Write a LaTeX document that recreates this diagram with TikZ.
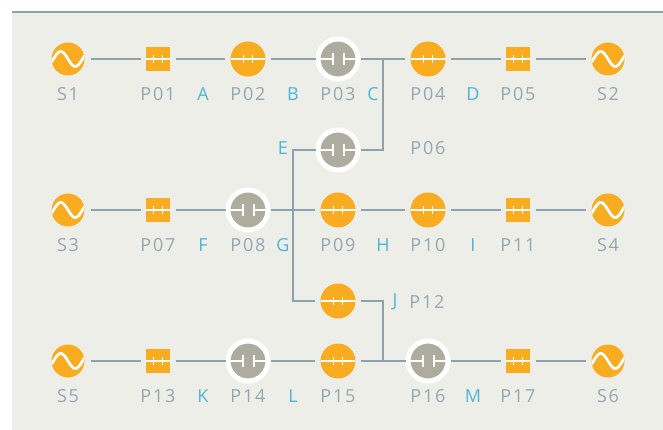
\documentclass[tikz,border=0pt]{standalone}
\usepackage{fontspec}
\setmainfont{Open Sans}[LetterSpace=10]
\usepackage{xcolor}
\usepackage{tikz}
\usetikzlibrary{positioning}

\definecolor{brkorange}{HTML}{F9AC1F}
\definecolor{brkgrey}{HTML}{AEAC9F}
\definecolor{panel}{HTML}{EEEEE9}
\definecolor{wire}{HTML}{8EA2AD}
\definecolor{lbltext}{HTML}{93A7B3}
\definecolor{segtext}{HTML}{4DB6D6}

\tikzset{
    ticks/.style={path picture={
        \draw[white,line width=1.5pt] (path picture bounding box.west) -- (path picture bounding box.east);
        \draw[white,line width=1.5pt] ([xshift=-4.5pt,yshift=-4pt]path picture bounding box.center) -- ++(0,8pt)
            ([xshift=4.5pt,yshift=-4pt]path picture bounding box.center) -- ++(0,8pt);}},
    closed/.style={circle,fill=brkorange,minimum size=35pt,inner sep=0pt,outer sep=5.5pt,ticks},
    cart/.style={rectangle,fill=brkorange,minimum size=24pt,inner sep=0pt,outer sep=5.5pt,ticks},
    open/.style={circle,fill=brkgrey,draw=white,line width=5pt,minimum size=40pt,inner sep=0pt,path picture={
        \draw[white,line width=2pt] (path picture bounding box.west) -- ([xshift=-5.5pt]path picture bounding box.center)
            ([xshift=5.5pt]path picture bounding box.center) -- (path picture bounding box.east);
        \draw[white,line width=2pt] ([xshift=-5.5pt,yshift=-6pt]path picture bounding box.center) -- ++(0,12pt)
            ([xshift=5.5pt,yshift=-6pt]path picture bounding box.center) -- ++(0,12pt);}},
    source/.style={circle,fill=brkorange,minimum size=33pt,inner sep=0pt,outer sep=6pt,path picture={
        \draw[white,line width=2.8pt,line cap=round,shift={(path picture bounding box.center)}]
            plot[domain=-16.5:16.5,samples=40,smooth] ({\x pt},{-7.5pt*sin(\x*180/14.5)});}},
    link/.style={draw=wire,line width=2.5pt},
    lbl/.style={text=lbltext,font=\fontsize{18}{18}\selectfont,inner sep=0pt},
    seg/.style={lbl,text=segtext}
}

\begin{document}
\begin{tikzpicture}[x=1pt,y=-1pt]
    \useasboundingbox (0,0) rectangle (663,430);
    \fill[panel] (12,12) rectangle (663,430);
    \draw[wire,line width=2.5pt] (12,12) -- (663,12);

    % top busbar
    \node[source] (S1) at (68,59) {};
    \node[cart]   (P01) at (158,59) {};
    \node[closed] (P02) at (248,59) {};
    \node[open]   (P03) at (338,59) {};
    \node[closed] (P04) at (428,59) {};
    \node[cart]   (P05) at (518,59) {};
    \node[source] (S2) at (608,59) {};
    \node[open]   (P06) at (338,150) {};

    % middle busbar
    \node[source] (S3) at (68,210) {};
    \node[cart]   (P07) at (158,210) {};
    \node[open]   (P08) at (248,210) {};
    \node[closed] (P09) at (338,210) {};
    \node[closed] (P10) at (428,210) {};
    \node[cart]   (P11) at (518,210) {};
    \node[source] (S4) at (608,210) {};
    \node[closed] (P12) at (338,301) {};

    % bottom busbar
    \node[source] (S5) at (68,361) {};
    \node[cart]   (P13) at (158,361) {};
    \node[open]   (P14) at (248,361) {};
    \node[closed] (P15) at (338,361) {};
    \node[open]   (P16) at (428,361) {};
    \node[cart]   (P17) at (518,361) {};
    \node[source] (S6) at (608,361) {};

    \coordinate (jC) at (383,59);
    \coordinate (jE) at (293,150);
    \coordinate (jJ) at (383,361);

    \draw[link] (S1) -- (P01) (P01) -- (P02) (P02) -- (P03) (P03) -- (P04) (P04) -- (P05) (P05) -- (S2);
    \draw[link] (S3) -- (P07) (P07) -- (P08) (P08) -- (P09) (P09) -- (P10) (P10) -- (P11) (P11) -- (S4);
    \draw[link] (S5) -- (P13) (P13) -- (P14) (P14) -- (P15) (P15) -- (P16) (P16) -- (P17) (P17) -- (S6);
    \draw[link] (P06.east) -| (jC);
    \draw[link] (P06.west) -- (jE) |- (P12.west);
    \draw[link] (P12.east) -| (jJ);

    % names
    \node[lbl] (tS1) at (68,94) {S1};
    \node[lbl] (tP01) at (158,94) {P01};
    \node[lbl] (tP02) at (248,94) {P02};
    \node[lbl] (tP03) at (338,94) {P03};
    \node[lbl] (tP04) at (428,94) {P04};
    \node[lbl] (tP05) at (518,94) {P05};
    \node[lbl] (tS2) at (608,94) {S2};
    \node[lbl] (tP06) at (428,148) {P06};
    \node[lbl] (tS3) at (68,245) {S3};
    \node[lbl] (tP07) at (158,245) {P07};
    \node[lbl] (tP08) at (248,245) {P08};
    \node[lbl] (tP09) at (338,245) {P09};
    \node[lbl] (tP10) at (428,245) {P10};
    \node[lbl] (tP11) at (518,245) {P11};
    \node[lbl] (tS4) at (608,245) {S4};
    \node[lbl] (tP12) at (427,302) {P12};
    \node[lbl] (tS5) at (68,396) {S5};
    \node[lbl] (tP13) at (158,396) {P13};
    \node[lbl] (tP14) at (248,396) {P14};
    \node[lbl] (tP15) at (338,396) {P15};
    \node[lbl] (tP16) at (428,396) {P16};
    \node[lbl] (tP17) at (518,396) {P17};
    \node[lbl] (tS6) at (608,396) {S6};

    % segments
    \node[seg] (tA) at (203,94) {A};
    \node[seg] (tB) at (293,94) {B};
    \node[seg] (tC) at (373,94) {C};
    \node[seg] (tD) at (473,94) {D};
    \node[seg] (tE) at (283,148) {E};
    \node[seg] (tF) at (203,245) {F};
    \node[seg] (tG) at (283,245) {G};
    \node[seg] (tH) at (383,245) {H};
    \node[seg] (tI) at (473,245) {I};
    \node[seg] (tJ) at (395,302) {J};
    \node[seg] (tK) at (203,396) {K};
    \node[seg] (tL) at (293,396) {L};
    \node[seg] (tM) at (473,396) {M};
\end{tikzpicture}
\end{document}
